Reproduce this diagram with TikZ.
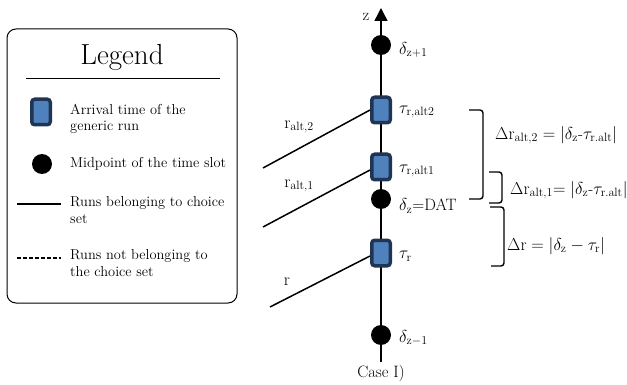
\documentclass[tikz,border=0pt]{standalone}
\usetikzlibrary{arrows.meta,positioning}
\tikzset{>={Triangle[length=13pt,width=13pt]}}
\definecolor{runfill}{HTML}{4F81BD}
\definecolor{runedge}{HTML}{1F3553}
\tikzset{
  slot/.style={circle,fill=black,minimum size=20pt,inner sep=0pt},
  arrival/.style={draw=runedge,fill=runfill,line width=3.5pt,rounded corners=3pt,
                  minimum width=18.5pt,minimum height=25.5pt,inner sep=0pt},
  lbl/.style={font=\fontsize{16.5}{19}\selectfont,inner sep=1pt},
  legtext/.style={font=\fontsize{14.4}{16.5}\selectfont,align=left,anchor=west,inner sep=0pt},
  run/.style={line width=1.5pt},
  brack/.style={line width=1.4pt,rounded corners=3pt},
}

\begin{document}
\begin{tikzpicture}[x=1pt,y=-1pt]
  \useasboundingbox (0,0) rectangle (627,385);
  \def\ax{381}

  % LEGEND
  \node[draw,line width=1pt,rounded corners=9pt,minimum width=230pt,minimum height=274pt]
    (legend) at (122,166) {};
  \node[font=\fontsize{29}{32}\selectfont] (legtitle) at (122,57) {Legend};
  \draw[line width=1pt] (26,79) -- (220,79);
  \node[arrival] (legrun) at (41,112) {};
  \node[legtext] (legruntxt) at (70,119) {Arrival time of the\\generic run};
  \node[slot] (legslot) at (42,164) {};
  \node[legtext] (legslottxt) at (70,164) {Midpoint of the time slot};
  \coordinate (lsa) at (17,204);
  \coordinate (lsb) at (61,204);
  \draw[run] (lsa) -- (lsb);
  \node[legtext] (legintxt) at (70,210) {Runs belonging to choice\\set};
  \coordinate (lda) at (17,258);
  \coordinate (ldb) at (61,258);
  \draw[run,dashed,dash pattern=on 4pt off 2pt] (lda) -- (ldb);
  \node[legtext] (legouttxt) at (70,263) {Runs not belonging to\\the choice set};

  % AXIS
  \coordinate (zbot) at (\ax,362);
  \coordinate (ztop) at (\ax,8);
  \draw[line width=1.5pt,->] (zbot) -- (ztop);
  \node[lbl] (zlab) at (366,17) {z};

  \node[slot] (dzp) at (\ax,45) {};
  \node[slot] (dz)  at (\ax,199) {};
  \node[slot] (dzm) at (\ax,335) {};
  \node[arrival] (talt2) at (\ax,110) {};
  \node[arrival] (talt1) at (\ax,167) {};
  \node[arrival] (tr)    at (\ax,253) {};

  \node[lbl,anchor=west] at (398,50)  {$\delta_{\mathrm{z+1}}$};
  \node[lbl,anchor=west] at (398,112) {$\tau_{\mathrm{r,alt2}}$};
  \node[lbl,anchor=west] at (398,171) {$\tau_{\mathrm{r,alt1}}$};
  \node[lbl,anchor=west] at (398,206) {$\delta_{\mathrm{z}}$=DAT};
  \node[lbl,anchor=west] at (398,256) {$\tau_{\mathrm{r}}$};
  \node[lbl,anchor=west] at (398,338) {$\delta_{\mathrm{z-1}}$};
  \node[lbl] (case) at (\ax,373) {Case I)};

  % RUNS
  \coordinate (ra2) at (263,168);
  \coordinate (ra1) at (263,227);
  \coordinate (rr)  at (270,307);
  \draw[run] (ra2) -- (talt2.west);
  \draw[run] (ra1) -- ([yshift=-3pt]talt1.west);
  \draw[run] (rr)  -- ([yshift=-3pt]tr.west);
  \node[lbl] at (299,127) {$\mathrm{r}_{\mathrm{alt,2}}$};
  \node[lbl] at (299,186) {$\mathrm{r}_{\mathrm{alt,1}}$};
  \node[lbl] at (287,282) {$\mathrm{r}$};

  % BRACKETS
  \draw[brack] (469,110) -- (483,110) -- (483,199) -- (469,199);
  \draw[brack] (489,172) -- (502,172) -- (502,203) -- (489,203);
  \draw[brack] (490,207) -- (504,207) -- (504,266) -- (491,266);
  \node[lbl,anchor=west] at (494,135)
    {$\Delta\mathrm{r}_{\mathrm{alt,2}} = |\delta_{\mathrm{z}}\mbox{-}\tau_{\mathrm{r.alt}}|$};
  \node[lbl,anchor=west] at (509,190)
    {$\Delta\mathrm{r}_{\mathrm{alt,1}}{=}\ |\delta_{\mathrm{z}}\mbox{-}\tau_{\mathrm{r.alt}}|$};
  \node[lbl,anchor=west] at (506,246)
    {$\Delta\mathrm{r} = |\delta_{\mathrm{z}} - \tau_{\mathrm{r}}|$};
\end{tikzpicture}
\end{document}
